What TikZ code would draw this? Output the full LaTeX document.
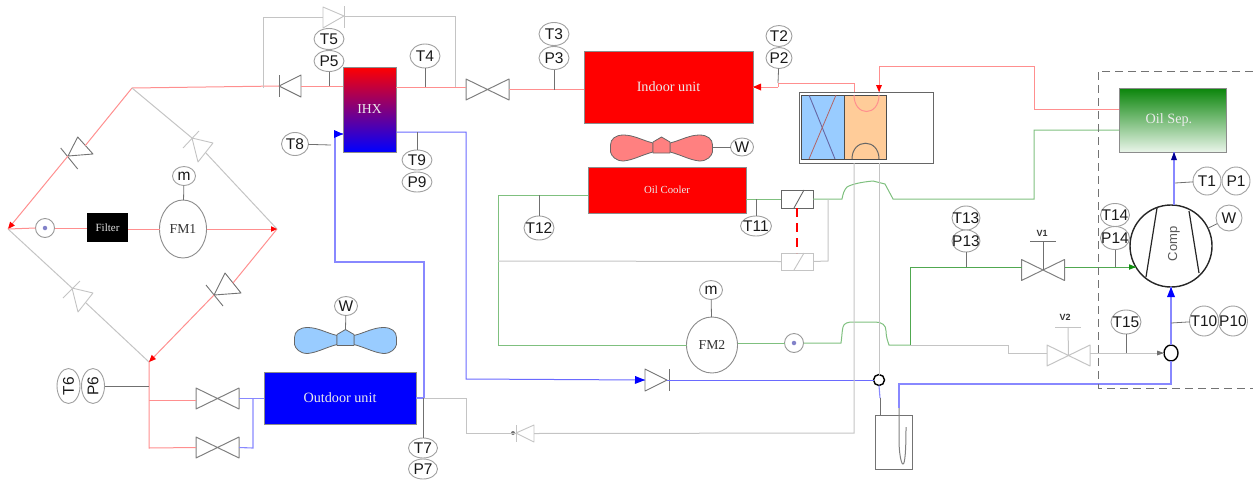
\documentclass[tikz,border=0pt]{standalone}
\usepackage{fontspec}
\setmainfont{Liberation Serif}
\newfontfamily\sensfont{Liberation Sans}
\usetikzlibrary{arrows.meta,shapes.geometric,calc}
\definecolor{rl}{HTML}{FF8F8F}
\definecolor{rd}{HTML}{FF0000}
\definecolor{bl}{HTML}{8888FF}
\definecolor{bm}{HTML}{6A6AFF}
\definecolor{gl}{HTML}{7FC07F}
\definecolor{gd}{HTML}{50A850}
\definecolor{gr}{HTML}{C4C4C4}
\definecolor{st}{HTML}{707070}
\definecolor{sb}{HTML}{A0A0A0}
\definecolor{fwb}{HTML}{99CCFF}
\definecolor{fwo}{HTML}{FFCC99}
\definecolor{fnr}{HTML}{FF8080}
\definecolor{osg}{HTML}{0A850A}
\definecolor{osw}{HTML}{EAF5EA}
\definecolor{nvy}{HTML}{000090}
\definecolor{dgn}{HTML}{109010}
\newcommand{\stxt}[1]{\makebox[0pt][c]{#1}}
\tikzset{
  sensor/.style={ellipse,draw=sb,fill=white,line width=0.9pt,inner sep=0pt,outer sep=0pt,font=\sensfont\fontsize{15.5}{15.5}\selectfont,text=black!90},
  sz/.style 2 args={minimum width=#1,minimum height=#2},
  unitbox/.style={draw=black!45,line width=0.8pt,inner sep=0pt,outer sep=0pt,font=\fontsize{14.2}{14.2}\selectfont,text=white!92!black},
  meter/.style={ellipse,draw=black!45,fill=white,line width=0.9pt,inner sep=0pt,outer sep=0pt,font=\fontsize{13.7}{13.7}\selectfont,text=black!80},
  glass/.style={circle,draw=black!40,fill=white,line width=0.9pt,minimum size=19pt,inner sep=0pt,outer sep=0pt},
  glassdot/.style={circle,fill=blue!40!gray!70,minimum size=4.5pt,inner sep=0pt},
  redl/.style={draw=rl,line width=1pt},
  blul/.style={draw=bl,line width=1.1pt},
  grnl/.style={draw=gl,line width=1pt},
  gryl/.style={draw=gr,line width=1pt},
  stem/.style={draw=st,line width=0.8pt},
  emptybox/.style={inner sep=0pt,outer sep=0pt,minimum width=43pt,minimum height=21pt},
  vlabel/.style={inner sep=0pt,font=\sensfont\bfseries\fontsize{9}{9}\selectfont,text=black!80},
}
\newcommand{\valve}[3]{%
  \node[emptybox] (#1) at (#2) {};
  \draw[draw=#3,line width=1pt,line join=round] (#1.north west) -- (#1.south east) -- (#1.north east) -- (#1.south west) -- cycle;}
\newcommand{\diode}[7]{%
  \coordinate (#1) at (#2);
  \coordinate (#1-b) at ($(#3)!0.5!(#4)$);
  \draw[draw=#7,line width=0.9pt,line join=round] (#2) -- (#3) -- (#4) -- cycle;
  \draw[draw=#7,line width=0.9pt] (#5) -- (#6);}
\newcommand{\headat}[5]{%
  \fill[#3] (#2) -- ($(#2)!#4pt!(#1)!#5pt!90:(#1)$) -- ($(#2)!#4pt!(#1)!#5pt!-90:(#1)$) -- cycle;}
\newcommand{\fan}[3]{%
  \begin{scope}[shift={(#2)}]
    \draw[draw=black!60,fill=#3,line width=0.8pt,line join=round]
      (-8.5,-10) .. controls (-20,-13) and (-28,-18) .. (-38,-18) .. controls (-46,-18) and (-51,-14) .. (-51,-8)
      -- (-51,-1) .. controls (-50,3) and (-46,8) .. (-38,8) .. controls (-28,7) and (-20,2) .. (-8.5,-1) -- cycle;
    \draw[draw=black!60,fill=#3,line width=0.8pt,line join=round]
      (8.5,-10) .. controls (20,-13) and (28,-18) .. (38,-18) .. controls (46,-18) and (51,-14) .. (51,-8)
      -- (51,-1) .. controls (50,3) and (46,8) .. (38,8) .. controls (28,7) and (20,2) .. (8.5,-1) -- cycle;
    \draw[draw=black!60,fill=#3,line width=0.8pt,line join=round]
      (-8.5,0) -- (8.5,0) -- (8.5,-11) -- (0,-16) -- (-8.5,-11) -- cycle;
    \coordinate (#1-tip) at (51,-6);
    \coordinate (#1-top) at (0,-16);
  \end{scope}}
\begin{document}
\begin{tikzpicture}[x=1pt,y=-1pt]
\useasboundingbox (0,0) rectangle (1253,480);
% ---------- junctions
\coordinate (top) at (132,88);
\coordinate (lft) at (8,229);
\coordinate (rgt) at (277,229);
\coordinate (bot) at (149,362);
\coordinate (j6) at (149,386);
\coordinate (j7) at (149,400);
\coordinate (j8) at (149,448);
\coordinate (bpW) at (263,88);
\coordinate (bpE) at (455,87);
\coordinate (inR) at (778,87);
\coordinate (inS) at (778,83);
\coordinate (fwA) at (854,92);
\coordinate (fwB) at (879,92);
\coordinate (os1) at (1034,109);
\coordinate (os2) at (1034,130);
\coordinate (os3) at (1034,66);
\coordinate (os4) at (1034,199);
\coordinate (gA) at (498,195);
\coordinate (gB) at (498,345);
\coordinate (gC) at (498,261);
\coordinate (sv) at (828,199);
\coordinate (sw) at (828,261);
\coordinate (hR) at (910,345);
\coordinate (hU) at (910,267);
\coordinate (gy1) at (1008,345);
\coordinate (gy2) at (1008,353);
\coordinate (bl1) at (466,132);
\coordinate (bl2) at (466,379);
\coordinate (bl3) at (424,398);
\coordinate (bl4) at (424,262);
\coordinate (bl5) at (335,262);
\coordinate (bl6) at (335,134);
\coordinate (gy3) at (466,398);
\coordinate (gy4) at (466,433);
\coordinate (gy5) at (854,433);
\coordinate (bA) at (1171,384);
\coordinate (bB) at (899,384);
\coordinate (bC) at (253,398);
\coordinate (bD) at (253,448);
\coordinate (cdis) at (1174,205);
\coordinate (t1j) at (1175,183);
\coordinate (t10j) at (1171,323);
\coordinate (cin) at (1136,267);
% ---------- units
\node[unitbox,minimum width=53pt,minimum height=85pt,top color=rd,bottom color=blue,font=\fontsize{13.7}{13.7}\selectfont] (IHX) at (369.5,109.5) {IHX};
\node[unitbox,fill=rd,minimum width=169pt,minimum height=72pt] (Indoor) at (668.5,87) {Indoor unit};
\node[unitbox,fill=rd,minimum width=158pt,minimum height=46pt,font=\fontsize{10.8}{10.8}\selectfont] (OilC) at (667,190) {Oil Cooler};
\node[unitbox,fill=blue,minimum width=152pt,minimum height=52pt] (Outdoor) at (340,398) {Outdoor unit};
\node[unitbox,minimum width=107pt,minimum height=64pt,top color=osg,bottom color=osw] (OilSep) at (1172.5,120) {\hspace*{-7pt}Oil Sep.};
\node[inner sep=0pt,outer sep=0pt,fill=black,text=white!90!black,minimum width=41pt,minimum height=29pt,font=\fontsize{11}{11}\selectfont] (Filter) at (107.5,227.5) {Filter};
\node[meter,minimum width=47pt,minimum height=58pt] (FM1) at (183,229) {\stxt{FM1}};
\node[meter,minimum width=51pt,minimum height=56pt] (FM2) at (712,345) {\stxt{FM2}};
\node[glass] (SG1) at (45,228) {};
\node[glassdot] (SG1d) at (SG1) {};
\node[glass] (SG2) at (794,343) {};
\node[glassdot] (SG2d) at (SG2) {};
% ---------- four way valve
\node[draw=black!60,fill=white,line width=0.9pt,inner sep=0pt,outer sep=0pt,minimum width=134pt,minimum height=71pt] (FW) at (866,127.5) {};
\node[draw=black!70,fill=fwb,line width=0.8pt,inner sep=0pt,outer sep=0pt,minimum width=43pt,minimum height=64pt] (FWb) at (822.5,127) {};
\node[draw=black!70,fill=fwo,line width=0.8pt,inner sep=0pt,outer sep=0pt,minimum width=42pt,minimum height=64pt] (FWo) at (865,127) {};
\draw[black!60!blue!60,line width=0.9pt] (809,95) -- (835,159);
\draw[rl!70!black,line width=0.8pt] (836,95) -- (809,159);
\draw[rl,line width=1pt] (854,95) .. controls (854,117) and (879,117) .. (879,95);
\draw[black!60,line width=1pt] (852,159) .. controls (852,138) and (879,138) .. (879,159);
% ---------- valves
\valve{VA}{487.5,89.5}{black!50}
\valve{VB}{217.5,398.5}{black!50}
\valve{VC}{217.5,447.5}{black!50}
\valve{VOne}{1043,270}{black!50}
\valve{VTwo}{1068.5,355.5}{gr}
% ---------- diodes
\diode{Dtop}{344,16}{323,7}{323,28}{344.5,6}{344.5,28}{gr}
\diode{Dihx}{279,86}{301,75}{301,97}{279,75}{279,97}{black!55}
\diode{Dtl}{68,156}{77.7,137}{93,154}{60.7,148}{77.7,169}{black!55}
\diode{Dtr}{192,138}{213,143}{198,162}{183,148}{199,131}{gr}
\diode{Dbl}{72,288}{93,293}{78,312}{63,298}{80,281}{gr}
\diode{Dbr}{214,295}{225,273}{241,293}{206,285}{223,306}{black!55}
\diode{Dblue}{667,380}{645,369}{645,391}{669,369}{669,391}{black!55}
\diode{Dgry}{516,433}{534,425}{534,442}{516,425}{516,442}{gr}
\node[circle,fill=black!55,minimum size=4pt,inner sep=0pt] (Dgdot) at (513,433) {};
% ---------- solenoid valves
\node[draw=black!60,line width=0.9pt,inner sep=0pt,outer sep=0pt,minimum width=32pt,minimum height=18pt] (SolA) at (797,199) {};
\draw[black!60,line width=0.9pt] ($(SolA.south)+(-3,0)$) -- ($(SolA.north)+(7,0)$);
\node[draw=gr,line width=0.9pt,inner sep=0pt,outer sep=0pt,minimum width=32pt,minimum height=17pt] (SolB) at (797,261.5) {};
\draw[gr,line width=0.9pt] ($(SolB.south)+(-3,0)$) -- ($(SolB.north)+(7,0)$);
\draw[draw=rd,line width=1.3pt,dash pattern=on 9pt off 6pt] (SolA.south) -- (SolB.north);
% ---------- mixers and accumulator
\node[circle,draw=black,line width=1.4pt,fill=white,minimum size=11pt,inner sep=0pt,outer sep=0pt] (MixA) at (879,380) {};
\node[ellipse,draw=black,line width=1.4pt,fill=white,minimum width=14pt,minimum height=16pt,inner sep=0pt,outer sep=0pt] (MixB) at (1171,353) {};
\node[draw=black!55,line width=0.9pt,inner sep=0pt,outer sep=0pt,minimum width=37pt,minimum height=54pt] (Acc) at (893.5,442) {};
% ---------- compressor
\node[circle,draw=black!85,line width=1.4pt,minimum size=82pt,inner sep=0pt,outer sep=0pt,fill=white] (Comp) at (1171,246) {};
\draw[black!85,line width=1.2pt] (1157,208) -- (1146,277);
\draw[black!85,line width=1.2pt] (1189,211) -- (1199,273);
\node[rotate=90,inner sep=0pt,font=\sensfont\fontsize{13}{13}\selectfont,text=black!65] (CompT) at (1174,244) {Comp};
% ---------- fans
\fan{FanA}{661.5,153}{fnr}
\fan{FanB}{345.5,345.5}{fwb}
% ---------- sensors
\node[sensor,sz={30pt}{21pt}] (T5) at (329,39) {\stxt{T5}};
\node[sensor,sz={30pt}{21pt}] (P5) at (329,61) {\stxt{P5}};
\node[sensor,sz={30pt}{24pt}] (T4) at (425,56) {\stxt{T4}};
\node[sensor,sz={30pt}{23pt}] (T3) at (554,34) {\stxt{T3}};
\node[sensor,sz={30pt}{23pt}] (P3) at (554,58) {\stxt{P3}};
\node[sensor,sz={26pt}{21pt}] (T2) at (779,36) {\stxt{T2}};
\node[sensor,sz={26pt}{21pt}] (P2) at (779,58) {\stxt{P2}};
\node[sensor,sz={27pt}{23pt}] (T8) at (295,144) {\stxt{T8}};
\node[sensor,sz={30pt}{20pt}] (T9) at (417,160) {\stxt{T9}};
\node[sensor,sz={30pt}{20pt}] (P9) at (417,182) {\stxt{P9}};
\node[sensor,sz={29pt}{20pt}] (T7) at (423,448) {\stxt{T7}};
\node[sensor,sz={29pt}{20pt}] (P7) at (423,469) {\stxt{P7}};
\node[sensor,sz={23pt}{35pt}] (T6) at (68.5,386) {\rotatebox{90}{\stxt{T6}}};
\node[sensor,sz={23pt}{35pt}] (P6) at (93,386) {\rotatebox{90}{\stxt{P6}}};
\node[sensor,sz={23pt}{19pt}] (mA) at (184,176) {\stxt{m}};
\node[sensor,sz={23pt}{19pt}] (mB) at (711,290) {\stxt{m}};
\node[sensor,sz={23pt}{18pt}] (WA) at (742,147) {\stxt{W}};
\node[sensor,sz={23pt}{19pt}] (WB) at (346,306) {\stxt{W}};
\node[sensor,sz={30pt}{24pt}] (T12) at (539,228) {\stxt{T12}};
\node[sensor,sz={31pt}{20pt}] (T11) at (756,226) {\stxt{T11}};
\node[sensor,sz={28pt}{24pt}] (T13) at (966,218) {\stxt{T13}};
\node[sensor,sz={28pt}{22pt}] (P13) at (966,241) {\stxt{P13}};
\node[sensor,sz={29pt}{23pt}] (T14) at (1115,215) {\stxt{T14}};
\node[sensor,sz={29pt}{23pt}] (P14) at (1115,238) {\stxt{P14}};
\node[sensor,sz={28pt}{28pt}] (T1) at (1207,181) {\stxt{T1}};
\node[sensor,sz={28pt}{28pt}] (P1) at (1236,181) {\stxt{P1}};
\node[sensor,sz={26pt}{26pt}] (WC) at (1229,218) {\stxt{W}};
\node[sensor,sz={29pt}{30pt}] (T10) at (1204,321) {\stxt{T10}};
\node[sensor,sz={29pt}{30pt}] (P10) at (1233,321) {\stxt{P10}};
\node[sensor,sz={30pt}{24pt}] (T15) at (1126,322) {\stxt{T15}};
\node[vlabel] (LV1) at (1042,233) {V1};
\node[vlabel] (LV2) at (1065,317) {V2};
% ---------- diamond
\draw[redl] (top) -- (Dihx);
\draw[redl] (top) -- (Dtl-b);
\draw[redl] (Dtl) -- (lft);
\headat{Dtl}{lft}{rd}{7}{3}
\draw[gryl] (top) -- (Dtr);
\draw[gryl] (Dtr-b) -- (rgt);
\draw[redl] (rgt) -- (Dbr-b);
\draw[redl] (Dbr) -- (bot);
\headat{Dbr}{bot}{rd}{7}{3}
\draw[gryl] (lft) -- (Dbl);
\draw[gryl] (Dbl-b) -- (bot);
\draw[redl] (lft) -- (SG1.west);
\draw[redl] (SG1.east) -- (Filter.west |- SG1);
\draw[redl] (Filter.east |- FM1) -- (FM1.west);
\draw[redl] (FM1.east) -- (rgt);
\headat{FM1}{rgt}{rd}{6}{2.8}
\draw[redl] (bot) -- (j8) -- (VC.west);
\draw[redl] (j7) -- (VB.west |- j7);
\draw[blul] (VB.east) -- (Outdoor.west |- VB);
\draw[blul] (VC.east) -- (bD) -- (bC);
% ---------- upper line
\draw[gryl] (bpW) |- (Dtop-b);
\draw[gryl] (Dtop) -| (bpE);
\draw[redl] (Dihx-b) -- (IHX.west |- Dihx-b);
\draw[redl] (IHX.east |- bpE) -- (VA.west |- bpE);
\draw[redl] (VA.east) -- (Indoor.west |- VA);
\coordinate (inT) at (Indoor.east |- inR);
\draw[redl] (inR) -- (inT);
\headat{inR}{inT}{rd}{8}{3.5}
\draw[redl] (inR) -- (inS) -| (fwA);
\draw[redl] (OilSep.west |- os1) -- (os1) -- (os3) -| (fwB);
\headat{os3 -| fwB}{fwB}{rd}{7}{3}
% ---------- green
\draw[grnl] (OilSep.west |- os2) -- (os2) -- (os4) -- (893,199) -- (885,184) -- (873,181) .. controls (862,182) and (852,184) .. (847,187) .. controls (844,190) and (843,194) .. (842,199) -- (SolA.east);
\draw[grnl] (SolA.west) -- (OilC.east |- SolA);
\draw[grnl] (OilC.west |- gA) -- (gA) -- (gB) -- (FM2.west);
\draw[gryl] (sv) -- (sw) -- (SolB.east);
\draw[gryl] (SolB.west) -- (gC);
\draw[grnl] (FM2.east |- SG2) -- (SG2.west);
\draw[grnl] (SG2.east) -- (841,343) .. controls (842,336) and (842,331) .. (843,327) .. controls (844,323) and (848,322) .. (853,322) -- (875,322) .. controls (882,322) and (886,325) .. (886,331) .. controls (886,337) and (888,342) .. (889,345) -- (hR);
\draw[gd,line width=1pt] (hR) -- (hU) -- (VOne.west |- hU);
\draw[gd,line width=1pt] (VOne.east |- hU) -- (cin);
\headat{hU}{cin}{dgn}{7}{2.8}
\draw[gryl] (hR) -- (gy1) -- (gy2) -- (VTwo.west |- gy2);
\coordinate (mixIn) at (MixB.west |- gy2);
\draw[gryl] (VTwo.east |- gy2) -- (mixIn);
\headat{gy2}{mixIn}{st}{7}{2.5}
\draw[stem] (VOne.center) -- (1043,241);
\draw[stem] (1030,241) -- (1056,241);
\draw[gryl] (VTwo.center) -- (1068,327);
\draw[gryl] (1055,327) -- (1081,327);
% ---------- blue
\draw[blul,line width=1.4pt] (MixB.north) -- (Comp.south);
\headat{MixB}{Comp.south}{blue}{10}{4}
\draw[blul,line width=1.2pt] (MixB.south) -- (bA) -- (bB) -- (899,408);
\draw[gryl,draw=black!50] (899,408) -- (899,440) .. controls (899,452) and (901,464) .. (903,464) .. controls (905,464) and (906,450) .. (906,427);
\coordinate (osIn) at (OilSep.south -| cdis);
\draw[blul] (cdis) -- (osIn);
\headat{cdis}{osIn}{nvy}{8}{3}
\draw[draw=bm,line width=1pt] (IHX.east |- bl1) -- (bl1) -- (bl2) -- (Dblue-b);
\headat{bl2}{Dblue-b}{blue}{10}{4}
\draw[draw=bm,line width=1pt] (Dblue) -- (MixA.west);
\coordinate (ihxIn) at (IHX.west |- bl6);
\draw[blul] (Outdoor.east |- bl3) -- (bl3) -- (bl4) -- (bl5) -- (bl6) -- (ihxIn);
\headat{bl6}{ihxIn}{blue}{9}{4}
\draw[gryl] (FW.south -| fwB) -- (MixA.north);
\draw[blul] (MixA.south) -- (880,398);
\draw[stem] (880,398) -- (880,415);
\draw[gryl] (FW.south -| fwA) -- (gy5) -- (Dgry-b);
\draw[gryl] (Dgry) -- (gy4) -- (gy3) -- (bl3);
% ---------- stems
\draw[stem] (P5) -- (P5 |- Dihx-b);
\draw[stem] (T4) -- (T4 |- bpE);
\draw[stem] (P3) -- (P3 |- VA);
\draw[stem] (P2) -- (inS);
\draw[stem] (T8) -- (331,145);
\draw[stem] (T9) -- (T9 |- bl1);
\draw[stem] (T7) -- (T7 |- bl3);
\draw[stem] (P6) -- (j6);
\draw[stem] (mA) -- (FM1);
\draw[stem] (mB) -- (FM2);
\draw[stem] (WA) -- (FanA-tip);
\draw[stem] (WB) -- (FanB-top);
\draw[stem] (T12) -- (T12 |- gA);
\draw[stem] (T11) -- (T11 |- SolA);
\draw[stem] (P13) -- (P13 |- hU);
\draw[stem] (P14) -- (P14 |- hU);
\draw[stem] (T15) -- (T15 |- gy2);
\draw[stem] (T1) -- (t1j);
\draw[stem] (WC) -- (Comp);
\draw[stem] (T10) -- (t10j);
% ---------- machine room boundary
\coordinate (dA) at (1253,71);
\coordinate (dB) at (1098,71);
\coordinate (dC) at (1098,388);
\coordinate (dD) at (1253,388);
\draw[draw=black!55,line width=1pt,dash pattern=on 8pt off 5pt] (dA) -- (dB) -- (dC) -- (dD);
\end{tikzpicture}
\end{document}
